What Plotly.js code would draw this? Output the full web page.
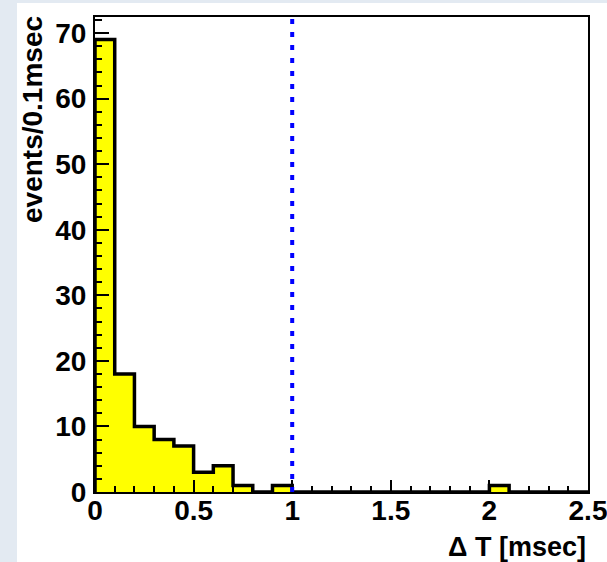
<!DOCTYPE html>
<html>
<head>
<meta charset="utf-8">
<script src="https://cdn.plot.ly/plotly-3.0.1.min.js"></script>
<style>
  html, body { margin: 0; padding: 0; width: 607px; height: 562px; overflow: hidden;
    background: #e3eaf2; position: relative; }
  #chart { position: absolute; left: 17px; top: 3px; width: 620px; height: 559px; }
</style>
</head>
<body>
<div id="chart"></div>
<script>
// Histogram of Delta T, 0.1 msec bins
const binLow = [0.0, 0.1, 0.2, 0.3, 0.4, 0.5, 0.6, 0.7, 0.8, 0.9,
                1.0, 1.1, 1.2, 1.3, 1.4, 1.5, 1.6, 1.7, 1.8, 1.9,
                2.0, 2.1, 2.2, 2.3, 2.4];
const binHighLast = 2.5;
const counts = [69, 18, 10, 8, 7, 3, 4, 1, 0, 1,
                0, 0, 0, 0, 0, 0, 0, 0, 0, 0,
                1, 0, 0, 0, 0];
const cutValue = 1.0;
const xTickVals = [0, 0.5, 1, 1.5, 2, 2.5];
const yTickVals = [0, 10, 20, 30, 40, 50, 60, 70];
const xTitle = 'Δ T [msec]';
const yTitle = 'events/0.1msec';

// step outline: start at baseline, then each bin's left edge, close at last edge
const xs = [binLow[0]].concat(binLow, [binHighLast]);
const ys = [0].concat(counts, [counts[counts.length - 1]]);
const yMax = Math.max.apply(null, counts) * 1.05;

const FONT = '"Liberation Sans", Arial, Helvetica, sans-serif';

const trace = {
  type: 'scatter', mode: 'lines',
  x: xs, y: ys,
  line: { shape: 'hv', color: '#000000', width: 3.5 },
  fill: 'tozeroy', fillcolor: '#ffff00',
  hoverinfo: 'x+y', showlegend: false
};

const layout = {
  width: 620, height: 559,
  margin: { l: 78, r: 49, t: 14, b: 70, pad: 0 },
  paper_bgcolor: '#ffffff', plot_bgcolor: '#ffffff',
  font: { family: FONT, color: '#000000' },
  showlegend: false,
  xaxis: {
    range: [0, binHighLast], tickvals: xTickVals,
    ticks: 'inside', ticklen: 12, tickwidth: 2, tickcolor: '#000',
    minor: { dtick: 0.1, ticks: 'inside', ticklen: 6, tickwidth: 2, tickcolor: '#000', showgrid: false },
    showline: true, linecolor: '#000', linewidth: 2, mirror: true,
    showgrid: false, zeroline: false,
    tickfont: { family: FONT, size: 28, weight: 'bold', color: '#000' },
    ticklabelstandoff: -8,
    fixedrange: true
  },
  yaxis: {
    range: [0, yMax], tickvals: yTickVals,
    ticks: 'inside', ticklen: 14, tickwidth: 2, tickcolor: '#000',
    minor: { dtick: 2, ticks: 'inside', ticklen: 7, tickwidth: 2, tickcolor: '#000', showgrid: false },
    showline: true, linecolor: '#000', linewidth: 2, mirror: true,
    showgrid: false, zeroline: false,
    tickfont: { family: FONT, size: 28, weight: 'bold', color: '#000' },
    ticklabelstandoff: 1,
    fixedrange: true
  },
  shapes: [{
    type: 'line', xref: 'x', yref: 'y',
    x0: cutValue, x1: cutValue, y0: 0, y1: yMax,
    line: { color: '#0000ff', width: 4, dash: '5px,8px' }, layer: 'above'
  }],
  annotations: [
    {
      text: xTitle, xref: 'paper', yref: 'paper', x: 1, y: 0,
      xanchor: 'right', yanchor: 'top', yshift: -38, showarrow: false,
      font: { family: FONT, size: 27, weight: 'bold', color: '#000' }
    },
    {
      text: yTitle, xref: 'paper', yref: 'paper', x: 0, y: 1,
      xanchor: 'right', yanchor: 'top', xshift: -45, yshift: 3, textangle: -90, showarrow: false,
      font: { family: FONT, size: 28, weight: 'bold', color: '#000' }
    }
  ]
};

Plotly.newPlot('chart', [trace], layout, { displayModeBar: false, staticPlot: true });
</script>
</body>
</html>
